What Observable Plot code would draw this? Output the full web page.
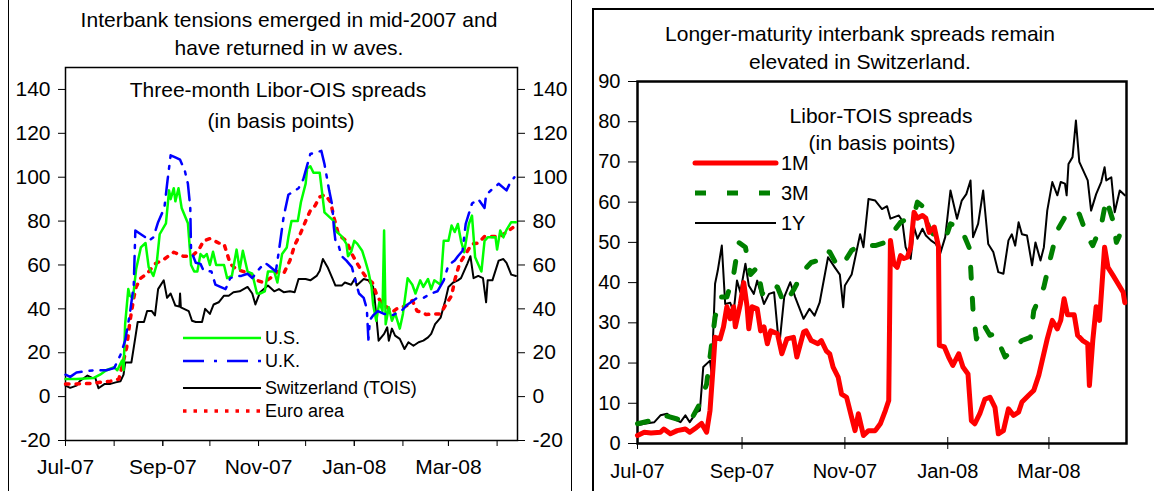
<!DOCTYPE html>
<html><head><meta charset="utf-8">
<script src="https://cdn.jsdelivr.net/npm/d3@7"></script>
<script src="https://cdn.jsdelivr.net/npm/@observablehq/plot@0.6"></script>
<style>
body{margin:0;background:#fff;font-family:"Liberation Sans",Arial,sans-serif;}
#wrap{position:relative;width:1154px;height:491px;overflow:hidden;background:#fff;}
.t{position:absolute;white-space:nowrap;color:#000;transform:translate(-50%,-50%);line-height:1;}
.l{position:absolute;white-space:nowrap;color:#000;transform:translate(0,-50%);line-height:1;}
.box{position:absolute;border:1.5px solid #000;box-sizing:border-box}
.p{position:absolute;top:0}
</style></head><body><div id="wrap"></div>
<script>
// ---------- DATA (x = days since 1 July 2007, y = basis points) ----------
const us = [[0,8],[7,8],[18,8.5],[22,10],[26,12],[31,13.4],[33,12],[36,16.4],[37,12],[38,33],[40,49],[41,46],[43,45],[45,58],[48,68],[51,70],[53,59],[56,55],[58,60],[60,74],[64,79],[66,94],[67,90],[69,95],[70,89],[72,95],[74,86],[78,79],[80,60],[82,57],[84,57],[86,65],[88,63.5],[90,65],[92,60],[94,66],[96,60],[101,60],[103,54],[106,55],[109,67],[111,58],[113,66.5],[116,57],[119,56],[122,47],[124,47],[127,48],[129,57],[133,57],[135,52],[138,65],[141,68],[142,72.6],[144,80],[148,80],[150,88.6],[153,97],[154,104],[156,105],[158,102],[162,102],[165,84],[171,80],[172,75.7],[176,73],[179,69.6],[180,64],[182,66],[184,71],[186,69.6],[189,66.5],[191,62],[193,57],[195,50],[196,42],[198,34.6],[200,43],[202,39],[203,75.7],[204,33],[206,40.7],[208,34.6],[210,38],[213,31],[215,37.7],[218,54],[221,51],[223,47],[226,53],[228,50],[231,53.6],[233,49],[235,53],[239,51],[241,71],[244,71],[246,78],[248,75],[250,78.7],[252,71],[254,65.8],[257,78.7],[259,82.5],[261,63.5],[265,57],[267,71],[269,72.6],[274,72.6],[275,67],[277,75.7],[279,72.6],[281,76],[284,79.5],[287,79.5]];
const uk = [[0,10],[3,9],[7,11],[18,12],[22,12],[26,12],[31,13],[35,19],[38,25.5],[41,37.7],[43.5,51],[44.5,75.7],[48,74],[51,72.6],[53,71],[56,72.6],[59,79.5],[63,86],[65,98.5],[67,110],[70,109],[73,108],[76,103],[78,97],[79.5,86],[80,66.5],[83,61],[86,60.5],[88,57.4],[93,57],[95.5,51],[98.7,50],[102,49],[105,54],[109,55],[112,55],[116,56],[119,54],[122,57],[127,61],[129,60],[134,57],[136,66.5],[139,82],[142,92],[148.5,95],[151.5,99],[156,110.6],[158,111],[163,112],[165,106],[168,94],[170,87],[171,77],[172,71],[174,68.8],[176,64],[179,62],[182.5,59],[184.6,53],[187,47],[190,45],[192,40],[193,26],[194,35],[196,37],[199,39],[203,37.7],[208,37],[214,39],[218,42],[224,45],[228,45],[233,47],[237,48],[241,53],[244,60],[248,62],[250,64],[253,66.5],[255,78.7],[259,88],[263,90],[267,86],[268,92],[272,94.6],[276,97],[281,94],[283,97],[286,100]];
const swiss = [[0,5],[3,4],[7,5],[9,7],[14,9.6],[17,8.5],[19,8.5],[21,3.8],[25,5.8],[28.6,5.8],[32,6.5],[35,7],[37,10],[38,15.6],[42,15.6],[44.5,27],[46,34],[50,34],[52,39],[55,39],[57,37],[59,49],[62.6,53],[64.7,45],[67,47],[70,41.5],[72.5,41],[73,47],[73.5,40.7],[78.5,39],[80.6,34.6],[83,34],[87,34],[89,40],[92,37.7],[94.4,42],[97.6,43],[101,46],[104,46],[107,47.6],[111,48],[116,50],[119,47],[121,42],[124,47.6],[129,50.6],[133,48],[136,49],[139,47.6],[143,48],[146,47.6],[148.5,53.6],[153,53.6],[156,53],[160,55],[162,57.4],[164,62.7],[167,59],[170,54],[172,50.6],[176,50.6],[178,52],[182,51],[184.6,54],[185.5,50.6],[190,53.6],[193,53],[196,50],[197,44.5],[199.5,25.5],[203,28.6],[205,31.6],[206,25.5],[208,31],[210,27.8],[213,26.3],[216,21.7],[218.5,24.8],[221.7,23.2],[225,24.8],[228,25.5],[231,27],[233,28.6],[235.5,33],[239,36],[242,43.8],[244,50],[247,52],[250,53],[252,54],[256,60.5],[258,64],[260,54],[263,55],[266,54],[268,43],[269,53],[272,53],[276,62],[279,62.7],[281,61],[284,55.6],[287,55]];
const euro = [[0,5.8],[7,5.8],[16,6],[22,6.5],[28.6,7],[34,8],[37,16.4],[39,22.5],[41,34],[43.5,45],[45,50],[48,54],[52,56],[57,60.5],[63,62.7],[69,65.8],[75,64],[80.6,64],[85,67],[88,71],[92,72],[97.6,70],[101,69.6],[105,60.5],[109,58],[113.5,57],[118,56],[122,53],[126,52],[130.5,54],[135,57],[139,56],[143,62],[146,69],[149.5,74],[153,80],[156,84.8],[159,87],[162,91],[165.5,92],[169,88.6],[171,81.7],[173.5,75],[176,72.6],[179,71],[182.5,65],[186,60.5],[189,57],[192,54],[195.5,52],[198.5,46],[202,42],[205,40.7],[208,38.4],[211,40],[214,40.7],[217.5,41.5],[221,43.8],[224,39],[227,38.4],[230,37.4],[234.5,37.7],[239,37.7],[242,41.5],[246,46],[248,53],[251,60.5],[254,64],[259,69.6],[263,70],[267,73],[272,73],[277,73],[281,75],[285,77]];

const m1 = [[0,2],[4,2.8],[8,2.6],[13.6,2.8],[15.6,3.6],[19.5,2.4],[23.5,3.2],[28.4,3.6],[31,2.8],[35,4],[38,5],[41,2.8],[43,8.2],[45,20],[46,26.4],[49,26],[51,29],[53,34],[55,31],[57,34],[58,29],[61,34.7],[63,40],[65,34],[66,28.5],[68,34],[71,33.5],[73,28],[75,29],[77,24.8],[79,28],[83,27.3],[85.6,22.3],[88.6,26],[92.5,26.4],[94.5,21.5],[98.5,27.7],[100,28],[103,25.6],[107,24.8],[109,25.6],[112,23],[114,22.3],[116,19],[119,16.5],[121,12.3],[124,11.5],[127,6.5],[129,3.2],[131,7.4],[134,2],[137,3.2],[141,3.2],[144,4.9],[147,8.2],[149,10.7],[150,50.5],[152,44.7],[154,43.8],[156,46.7],[158,46],[160,46.3],[162,48.8],[164,57.5],[166,56],[169,56.7],[171,56],[173,52.5],[176,53.8],[178.5,49],[179,24.4],[182,24],[184.5,21.5],[187,19.4],[190.5,22.3],[193,19],[196,17.3],[198,5.7],[200,4.9],[203,7.4],[206,11],[209,11.5],[212,9],[214,2.4],[217,3.2],[220,8.6],[223,7],[226,7.8],[228,10.3],[232,12],[235,13.2],[238,17],[240,20.6],[243,26],[246,30.6],[249,28.5],[251,30.6],[253,36],[255,32],[259,32],[261,26.9],[264,25.6],[267,24.8],[268,14.4],[270,25.6],[272,34],[274,30.6],[277,48.8],[279,43.8],[282,41.8],[285,39.7],[288,37.6],[289,35]];
const m3 = [[0,4.9],[8,5.7],[15.6,7],[23.5,6.1],[31,5.3],[37,9.9],[41,14.8],[44,24.8],[46,31.4],[49,36.4],[53,36.4],[57,42],[60,50],[64,48.8],[67,42],[71,43.8],[74,37.2],[78,39.7],[83,38.9],[87,34.7],[90,36.4],[93,38.5],[98.5,43],[103,45],[107,45.5],[110,48],[114,47.6],[119,43.8],[122,44.7],[127,48],[130,48.8],[134,49.2],[141,49.2],[147,50],[156,55],[164,56.7],[166,60],[169,59],[173,53.4],[177.5,50.9],[183,51.3],[185.6,54.6],[191.6,53.8],[197,48.4],[198,40.5],[199,33],[201,26],[205,29.8],[209,26.9],[212,27.3],[218,21.5],[222,23.1],[228,25.6],[233,26.4],[235,33],[241,38.9],[245,46.3],[249,53],[254.5,57],[260,58],[262,57],[267,51.3],[270,49.2],[275,54.2],[278,60.8],[282,55.4],[284,50],[289,54.6]];
const y1 = [[0,4.5],[4,4.9],[10,5.3],[13.6,7],[17.6,7.4],[21.5,6.1],[25.5,5.3],[28.4,7],[31,5.3],[35,7.8],[37,8.2],[39,19],[43,20.6],[44,17.3],[46,39.7],[47.6,43],[50,49.2],[52,34.7],[55,35],[57,32.6],[59,40.5],[61,37.6],[64,44.7],[66,39.3],[69,37.2],[71,40.5],[75,34.7],[78,37.2],[81,37.6],[84,24],[87,36.4],[90.6,40.1],[93.5,36.4],[98.5,31],[102,33.5],[105,31.8],[108,35],[113,46.3],[117,43.8],[120,42],[122,33.9],[123,39.3],[127,42],[132,52],[134,48.8],[137,60.8],[141,60.4],[145,58.3],[148,59],[150,55.9],[155,56.7],[157,55.4],[159,48.8],[162,45.9],[164,53.8],[166,50.9],[169,53.4],[171,51.7],[174,50.5],[177,49.6],[179.5,47.2],[182.5,51.3],[185.6,62.9],[189.5,55.9],[192.3,60.4],[195,62],[197.5,65.4],[199,51.3],[202,54.6],[205,62.9],[208,49.6],[211,47.6],[214,42.6],[217,42.2],[220,50.5],[222,52],[224,49.2],[226,55],[228,52],[231,51.7],[234,44.3],[236,50],[239,45.5],[241,48.8],[243,57.9],[246,65],[249,61.7],[251,65],[253.5,64.6],[254.5,61.7],[255.6,69.5],[258,71.2],[260,80.3],[262,70],[267,65.4],[269,57.9],[272,62],[275,65],[277,68.7],[278,65.4],[281,66.2],[283,57.5],[286,62.9],[289,61.7]];

const leftYTicks = [-20,0,20,40,60,80,100,120,140];
const rightYTicks = [0,10,20,30,40,50,60,70,80,90];
const monthTicks = ["2007-07-01","2007-08-01","2007-09-01","2007-10-01","2007-11-01","2007-12-01","2008-01-01","2008-02-01","2008-03-01","2008-04-01"];
const labelTicks = ["2007-07-01","2007-09-01","2007-11-01","2008-01-01","2008-03-01"];
const tickLabels = ["Jul-07","Sep-07","Nov-07","Jan-08","Mar-08"];
const leftEnd = "2008-04-14", rightEnd = "2008-04-16";
const leftLegend = ["U.S.","U.K.","Switzerland (TOIS)","Euro area"];
const rightLegend = ["1M","3M","1Y"];

// ---------- build ----------
const FONT = '"Liberation Sans", Arial, sans-serif';
const base = Date.UTC(2007,6,1);
const toDate = d => new Date(base + d*864e5);
const rows = arr => arr.map(([d,v]) => ({date: toDate(d), value: v}));
const pd = s => new Date(s + "T00:00:00Z");
const labelMap = new Map(labelTicks.map((s,i) => [+pd(s), tickLabels[i]]));
const fmt = d => labelMap.get(+d) ?? "";

const wrap = document.getElementById("wrap");
function add(html){ wrap.insertAdjacentHTML("beforeend", html); }

add('<div class="box" style="left:8px;top:-2px;width:564px;height:500px"></div>');
add('<div class="box" style="left:592px;top:8px;width:570px;height:500px;border-width:2px"></div>');

const leftPlot = Plot.plot({
  width: 580, height: 491, marginLeft: 65, marginRight: 63, marginTop: 67, marginBottom: 51,
  style: {fontFamily: FONT, fontSize: "21px", background: "transparent", color: "#000", overflow: "visible"},
  x: {type: "utc", domain: [pd("2007-07-01"), pd(leftEnd)]},
  y: {domain: [-20, 150]},
  marks: [
    Plot.frame({stroke: "#000", strokeWidth: 1.5}),
    Plot.axisY({ticks: leftYTicks, anchor: "left", tickSize: 7, tickPadding: 8, label: null, tickFormat: d => String(d)}),
    Plot.axisY({ticks: leftYTicks, anchor: "right", tickSize: 7, tickPadding: 8, label: null, tickFormat: d => String(d)}),
    Plot.axisX({ticks: monthTicks.map(pd), anchor: "bottom", tickSize: 6, tickFormat: () => "", label: null}),
    Plot.axisX({ticks: labelTicks.map(pd), anchor: "bottom", tickSize: 6, tickPadding: 13, tickFormat: fmt, label: null}),
    Plot.line(rows(swiss), {x: "date", y: "value", stroke: "#000", strokeWidth: 2}),
    Plot.line(rows(euro), {x: "date", y: "value", stroke: "#ff0000", strokeWidth: 3.5, strokeDasharray: "3.5,7"}),
    Plot.line(rows(us), {x: "date", y: "value", stroke: "#00ff00", strokeWidth: 2.5}),
    Plot.line(rows(uk), {x: "date", y: "value", stroke: "#0000ff", strokeWidth: 2.5, strokeDasharray: "18,8,3,8"})
  ]
});
leftPlot.classList.add("p"); leftPlot.style.left = "0px";
wrap.appendChild(leftPlot);

const rightPlot = Plot.plot({
  width: 574, height: 491, marginLeft: 57, marginRight: 28, marginTop: 81, marginBottom: 48,
  style: {fontFamily: FONT, fontSize: "20px", background: "transparent", color: "#000", overflow: "visible"},
  x: {type: "utc", domain: [pd("2007-07-01"), pd(rightEnd)]},
  y: {domain: [0, 90]},
  marks: [
    Plot.frame({stroke: "#000", strokeWidth: 2.5}),
    Plot.axisY({ticks: rightYTicks, anchor: "left", tickSize: 9, tickPadding: 8, label: null, tickFormat: d => String(d)}),
    Plot.axisX({ticks: labelTicks.map(pd), anchor: "bottom", tickSize: 6, tickPadding: 14, tickFormat: fmt, label: null}),
    Plot.axisX({ticks: labelTicks.map(pd), anchor: "bottom", tickSize: -6, tickFormat: () => "", label: null}),
    Plot.line(rows(y1), {x: "date", y: "value", stroke: "#000", strokeWidth: 2}),
    Plot.line(rows(m3), {x: "date", y: "value", stroke: "#008000", strokeWidth: 5, strokeDasharray: "11,20"}),
    Plot.line(rows(m1), {x: "date", y: "value", stroke: "#ff0000", strokeWidth: 5})
  ]
});
rightPlot.classList.add("p"); rightPlot.style.left = "580px";
wrap.appendChild(rightPlot);

// ---------- titles ----------
add('<div class="t" style="left:289px;top:19px;font-size:21px">Interbank tensions emerged in mid-2007 and</div>');
add('<div class="t" style="left:289px;top:47px;font-size:21px">have returned in w aves.</div>');
add('<div class="t" style="left:278px;top:89px;font-size:21px">Three-month Libor-OIS spreads</div>');
add('<div class="t" style="left:281px;top:120px;font-size:21px">(in basis points)</div>');
add('<div class="t" style="left:860px;top:33px;font-size:21px">Longer-maturity interbank spreads remain</div>');
add('<div class="t" style="left:860px;top:61px;font-size:21px">elevated in Switzerland.</div>');
add('<div class="t" style="left:881px;top:115px;font-size:21px">Libor-TOIS spreads</div>');
add('<div class="t" style="left:882px;top:142px;font-size:21px">(in basis points)</div>');

// ---------- legends ----------
const lgY = [338, 361, 388, 411];
const lgStyle = [
  'stroke="#00ff00" stroke-width="2.5"',
  'stroke="#0000ff" stroke-width="2.5" stroke-dasharray="21,10,3,10"',
  'stroke="#000" stroke-width="2"',
  'stroke="#ff0000" stroke-width="3.5" stroke-dasharray="3.5,7"'
];
const rgY = [163, 193, 223];
const rgStyle = [
  'stroke="#ff0000" stroke-width="5" stroke-linecap="round"',
  'stroke="#008000" stroke-width="5" stroke-dasharray="11,21"',
  'stroke="#000" stroke-width="2"'
];
let svg = '<svg style="position:absolute;left:0;top:0" width="1154" height="491">';
lgY.forEach((y,i) => { svg += `<line x1="183" x2="261" y1="${y}" y2="${y}" ${lgStyle[i]}/>`; });
rgY.forEach((y,i) => { svg += `<line x1="695" x2="776" y1="${y}" y2="${y}" ${rgStyle[i]}/>`; });
svg += '</svg>';
add(svg);
leftLegend.forEach((s,i) => add(`<div class="l" style="left:265px;top:${lgY[i]}px;font-size:18px">${s}</div>`));
rightLegend.forEach((s,i) => add(`<div class="l" style="left:781px;top:${rgY[i]}px;font-size:20px">${s}</div>`));
</script></body></html>
